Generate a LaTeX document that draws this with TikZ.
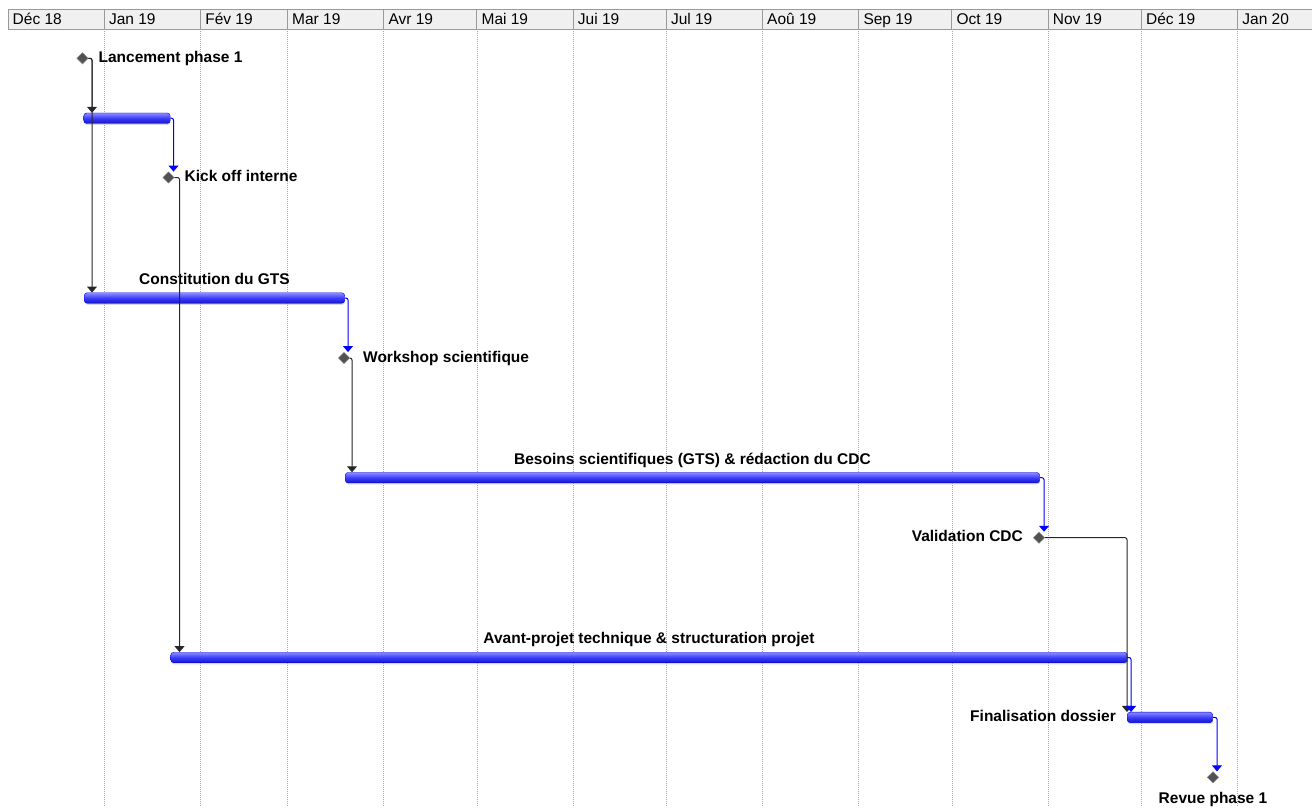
\documentclass[tikz,border=0pt]{standalone}
\usepackage{fontspec}
\setmainfont{Liberation Sans}
\usetikzlibrary{shapes,arrows.meta,positioning,shadows}

\definecolor{barline}{RGB}{0,0,230}
\definecolor{bartop}{RGB}{140,140,255}
\definecolor{barmid}{RGB}{60,60,250}
\definecolor{barbot}{RGB}{20,20,200}
\definecolor{linkblue}{RGB}{0,0,255}

\begin{document}
\begin{tikzpicture}[x=1pt, y=-1pt, node distance=10pt, font=\fontsize{15.5}{18}\selectfont]
  \tikzstyle{milestone} = [diamond, draw=black!45, fill=black!68,
    minimum size=11.5pt, inner sep=0pt]
  \tikzstyle{task} = [rectangle, rounded corners=3pt, draw=barline,
    top color=bartop, bottom color=barbot, middle color=barmid,
    minimum height=10.5pt, inner sep=0pt, anchor=west,
    drop shadow={shadow xshift=0.5pt, shadow yshift=-1.5pt, fill=black!30}]
  \tikzstyle{tasktext} = [font=\fontsize{15.5}{18}\selectfont\bfseries,
    inner sep=0pt, text height=11pt, text depth=3pt]
  \tikzstyle{month} = [anchor=west, inner sep=0pt, text height=11pt, text depth=3pt]
  \tikzstyle{dep} = [draw=black!85, line width=1pt, rounded corners=2pt,
    -{Triangle[width=10pt,length=6pt]}]
  \tikzstyle{succ} = [dep, draw=linkblue]

  \useasboundingbox (0,0) rectangle (1312,807);

  % Timescale
  \fill [black!6] (8,9.5) rectangle (1312,29);
  \draw [black!40, line width=1pt] (8,29) -- (8,9.5) -- (1312,9.5);
  \draw [black!40, line width=1pt] (8,29) -- (1312,29);
  \foreach \x/\m [count=\i] in {8/Déc 18, 104.3/Jan 19, 200.6/Fév 19, 287.5/Mar 19,
      383.8/Avr 19, 476.9/Mai 19, 573.2/Jui 19, 666.3/Jul 19, 762.5/Aoû 19,
      858.8/Sep 19, 951.9/Oct 19, 1048.2/Nov 19, 1141.4/Déc 19, 1237.7/Jan 20} {
    \draw [black!40, line width=1pt] (\x,9.5) -- (\x,29);
    \node [month] (month\i) at (\x+4.5,20.7) {\m};
  }
  \foreach \x in {104.3,200.6,287.5,383.8,476.9,573.2,666.3,762.5,858.8,951.9,1048.2,1141.4,1237.7}
    \draw [black!35, line width=0.8pt, dash pattern=on 1pt off 1pt] (\x,29) -- (\x,807);

  % Place nodes
  \node [milestone] (lancement) at (82.5,58.3) {};
  \node [tasktext, right=10pt of lancement] (lancementtxt) {Lancement phase 1};
  \node [task, minimum width=86.5pt] (prep) at (83.5,118.2) {};
  \node [milestone] (kickoff) at (168.5,177.5) {};
  \node [tasktext, right=10pt of kickoff] (kickofftxt) {Kick off interne};
  \node [task, minimum width=260.5pt] (gts) at (84,298) {};
  \node [tasktext, above=5pt of gts] (gtstxt) {Constitution du GTS};
  \node [milestone] (workshop) at (344,358) {};
  \node [tasktext, right=13pt of workshop] (workshoptxt) {Workshop scientifique};
  \node [task, minimum width=694.5pt] (besoins) at (345,477.7) {};
  \node [tasktext, above=5pt of besoins] (besoinstxt) {Besoins scientifiques (GTS) \& rédaction du CDC};
  \node [milestone] (validation) at (1039,537.7) {};
  \node [tasktext, left=10pt of validation] (validationtxt) {Validation CDC};
  \node [task, minimum width=956.5pt] (avant) at (170.5,657.5) {};
  \node [tasktext, above=5pt of avant] (avanttxt) {Avant-projet technique \& structuration projet};
  \node [task, minimum width=85.5pt] (final) at (1127,717.4) {};
  \node [tasktext, left=11pt of final] (finaltxt) {Finalisation dossier};
  \node [milestone] (revue) at (1213,777.3) {};
  \node [tasktext, below=9pt of revue] (revuetxt) {Revue phase 1};

  % Draw edges
  \path [dep] (lancement.east) -| ([xshift=8.5pt]prep.north west);
  \path [dep] (lancement.east) -| ([xshift=8pt]gts.north west);
  \path [dep] (kickoff.east) -| ([xshift=9pt]avant.north west);
  \path [dep] (workshop.east) -| ([xshift=7pt]besoins.north west);
  \path [dep] (validation.east) -| (final.north west);

  \path [succ] (prep.east) -| ([xshift=5pt]kickoff.north);
  \path [succ] (gts.east) -| ([xshift=4pt]workshop.north);
  \path [succ] (besoins.east) -| ([xshift=5pt]validation.north);
  \path [succ] (avant.east) -| ([xshift=4pt]final.north west);
  \path [succ] (final.east) -| ([xshift=4pt]revue.north);

\end{tikzpicture}
\end{document}
